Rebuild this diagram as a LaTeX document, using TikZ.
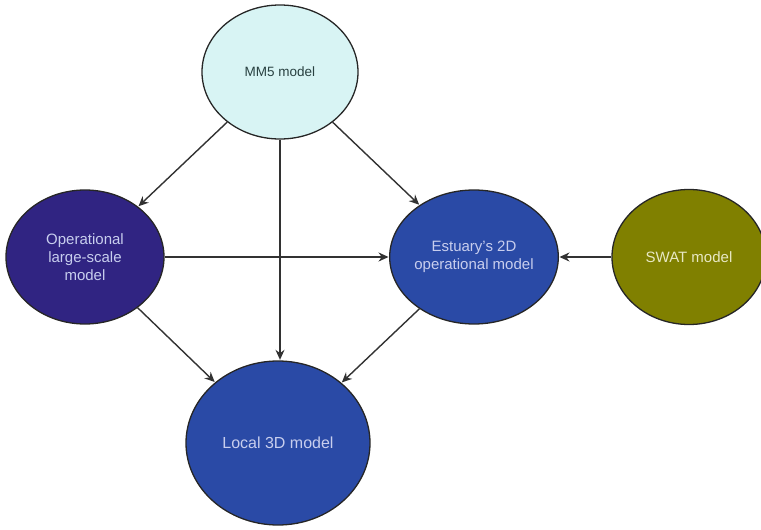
\documentclass[tikz,border=0pt]{standalone}
\usepackage{fontspec}
\setmainfont{Liberation Sans}
\usetikzlibrary{shapes.geometric,arrows.meta}
\definecolor{mmfill}{RGB}{216,244,244}
\definecolor{opfill}{RGB}{48,36,130}
\definecolor{bluefill}{RGB}{42,74,166}
\definecolor{olivefill}{RGB}{128,128,0}
\definecolor{lighttext}{RGB}{200,206,238}
\definecolor{mmtext}{RGB}{40,64,64}
\definecolor{swattext}{RGB}{232,232,196}
\definecolor{edge}{RGB}{50,50,50}
\tikzset{
  model/.style={ellipse, draw=black!85, line width=1.3pt, inner sep=0pt, align=center,
    font=\fontsize{15}{18}\selectfont},
  conn/.style={draw=edge, line width=1.4pt, -{Stealth[length=10pt,width=9pt]}, shorten >=0.5pt}
}
\begin{document}
\begin{tikzpicture}[x=1pt,y=-1pt]
\useasboundingbox (0,0) rectangle (761,530);
\node[model, fill=mmfill, text=mmtext, minimum width=156pt, minimum height=134pt, font=\fontsize{13.5}{16}\selectfont] (mm5) at (280,72) {MM5 model};
\node[model, fill=opfill, text=lighttext, minimum width=158pt, minimum height=134pt] (op) at (85,257) {Operational\\large-scale\\model};
\node[model, fill=bluefill, text=lighttext, minimum width=155pt, minimum height=134pt] (est) at (474,257) {Estuary's 2D\\operational model};
\node[model, fill=olivefill, text=swattext, minimum width=154pt, minimum height=135pt] (swat) at (689,257) {SWAT model};
\node[model, fill=bluefill, text=lighttext, minimum width=184pt, minimum height=164pt, font=\fontsize{16}{19}\selectfont] (loc) at (278,443) {Local 3D model};
\draw[conn] (mm5) -- (op);
\draw[conn] (mm5) -- (est);
\draw[conn] (mm5.south) -- (mm5.south |- loc.north);
\draw[conn] (op) -- (est);
\draw[conn] (swat) -- (est);
\draw[conn] (op) -- (loc);
\draw[conn] (est) -- (loc);
\end{tikzpicture}
\end{document}
